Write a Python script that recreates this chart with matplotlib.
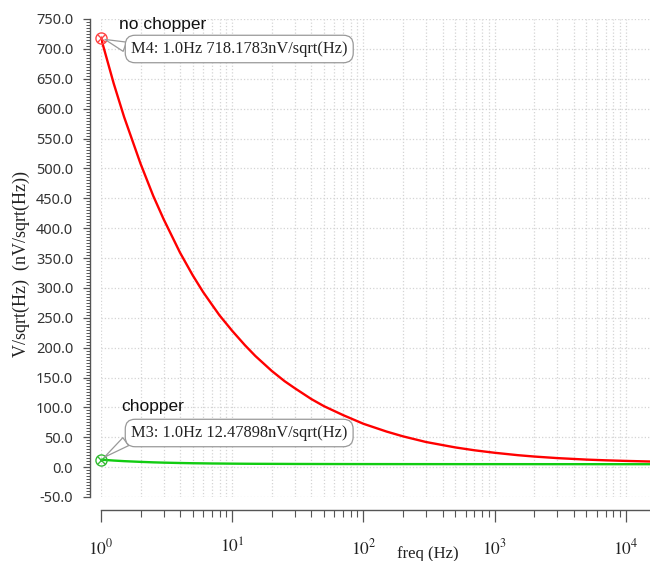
import matplotlib
matplotlib.use("Agg")
import matplotlib.pyplot as plt
from matplotlib.ticker import LogLocator, MultipleLocator, FormatStrFormatter, FuncFormatter, NullFormatter
import numpy as np

# ---- data ----
freq = [1, 1.25, 1.5, 2, 2.5, 3, 4, 5, 6, 7, 8, 10, 12.5, 15, 20, 25, 30, 40, 50,
        70, 100, 150, 200, 300, 500, 700, 1000, 1500, 2000, 3000, 5000, 7000, 10000, 15240]
no_chopper = [718.18, 642, 586, 508, 454, 415, 359, 321, 293, 272, 254, 228, 204, 186,
              161, 144, 132, 114, 102, 87, 72.5, 59.5, 51.5, 42, 33, 28.2, 24, 20, 17.7,
              15.1, 12.6, 11.4, 10.4, 9.4]
chopper = [12.48, 11.0, 10.0, 8.8, 8.0, 7.5, 6.9, 6.5, 6.3, 6.1, 6.0, 5.8, 5.65, 5.55,
           5.45, 5.38, 5.3, 5.25, 5.2, 5.15, 5.1, 5.07, 5.05, 5.03, 5.0, 5.0, 5.0, 4.98,
           4.97, 4.95, 4.93, 4.92, 4.9, 4.9]
m4_label = "M4: 1.0Hz 718.1783nV/sqrt(Hz)"
m3_label = "M3: 1.0Hz 12.47898nV/sqrt(Hz)"
m4_point = (1.0, 718.1783)
m3_point = (1.0, 12.47898)
ylim = (-50, 750)
xlim = (1, 15240)

plt.rcParams['mathtext.fontset'] = 'stix'

fig = plt.figure(figsize=(6.5, 5.61), dpi=100)
W, H = 650, 561
ax = fig.add_axes([101 / W, 1 - 497 / H, 1 - 101 / W, (497 - 19) / H])

ax.plot(freq, no_chopper, color='#ff0000', lw=1.7, zorder=3)
ax.plot(freq, chopper, color='#11cc11', lw=1.7, zorder=3)

# markers
for (px, py), col in [(m4_point, '#ff4444'), (m3_point, '#33bb33')]:
    ax.plot([px], [py], marker='o', ms=8, mfc='none', mec=col, mew=1.0, zorder=5, clip_on=False)
    ax.plot([px], [py], marker='x', ms=5.5, mec=col, mew=1.0, zorder=5, clip_on=False)

ax.set_xscale('log')
ax.set_xlim(*xlim)
ax.set_ylim(*ylim)

ax.yaxis.set_major_locator(MultipleLocator(50))
ax.yaxis.set_minor_locator(MultipleLocator(5))
ax.yaxis.set_major_formatter(FormatStrFormatter('%.1f'))
ax.xaxis.set_major_locator(LogLocator(base=10, numticks=10))
ax.xaxis.set_minor_locator(LogLocator(base=10, subs=range(2, 10), numticks=100))
ax.xaxis.set_major_formatter(FuncFormatter(lambda v, p: r'$10^{%d}$' % int(round(np.log10(v)))))
ax.xaxis.set_minor_formatter(NullFormatter())

for s in ['top', 'right']:
    ax.spines[s].set_visible(False)
ax.spines['left'].set_position(('outward', 8))
ax.spines['bottom'].set_position(('outward', 9))
for s in ['left', 'bottom']:
    ax.spines[s].set_color('#555555')
    ax.spines[s].set_linewidth(1.0)

ax.tick_params(axis='y', which='major', direction='out', length=5, width=0.9, color='#555555',
               labelsize=10.5, labelcolor='#333333', pad=7)
ax.tick_params(axis='y', which='minor', direction='out', length=3, width=0.7, color='#555555')
ax.tick_params(axis='x', which='major', direction='out', length=8.5, width=0.9, color='#555555',
               labelsize=12.5, labelcolor='#222222', pad=12)
ax.tick_params(axis='x', which='minor', direction='out', length=5, width=0.8, color='#555555')
for lab in ax.get_yticklabels():
    lab.set_family('Noto Sans')

ax.grid(True, axis='y', which='major', color='#d4d4d4', linestyle=':', linewidth=0.9)
ax.grid(True, axis='x', which='both', color='#d4d4d4', linestyle=':', linewidth=0.9)
ax.set_axisbelow(True)

ax.set_xlabel('freq (Hz)', family='Liberation Serif', fontsize=12, color='#222222')
ax.xaxis.set_label_coords((428 - 101) / (W - 101), -(554 - 497) / (497 - 19), transform=ax.transAxes)
ax.xaxis.label.set_va('center')
fig.text(21 / W, 1 - 264 / H, 'V/sqrt(Hz)  (nV/sqrt(Hz))', rotation=90, family='Liberation Serif',
         fontsize=13, color='#222222', ha='center', va='center')

# curve names
fig.text(119 / W, 1 - 25 / H, 'no chopper', family='Liberation Sans', fontsize=12.5,
         color='#111111', ha='left', va='center')
fig.text(121 / W, 1 - 407 / H, 'chopper', family='Liberation Sans', fontsize=12.5,
         color='#111111', ha='left', va='center')

box = dict(boxstyle='round,pad=0.35,rounding_size=0.6', fc='white', ec='#999999', lw=0.9)
ax.annotate(m4_label, xy=m4_point, xytext=(131 / W, 1 - 49 / H), textcoords='figure fraction',
            family='Liberation Serif', fontsize=11.8, color='#222222', va='center', ha='left',
            bbox=box, zorder=6, annotation_clip=False,
            arrowprops=dict(arrowstyle='wedge,tail_width=0.6,shrink_factor=0.5', fc='white',
                            ec='#999999', lw=0.9, relpos=(0.0, 0.5), shrinkA=0, shrinkB=3))
ax.annotate(m3_label, xy=m3_point, xytext=(131 / W, 1 - 433 / H), textcoords='figure fraction',
            family='Liberation Serif', fontsize=11.8, color='#222222', va='center', ha='left',
            bbox=box, zorder=6, annotation_clip=False,
            arrowprops=dict(arrowstyle='wedge,tail_width=0.6,shrink_factor=0.5', fc='white',
                            ec='#999999', lw=0.9, relpos=(0.0, 0.2), shrinkA=0, shrinkB=3))

fig.savefig('out.png', dpi=100)
